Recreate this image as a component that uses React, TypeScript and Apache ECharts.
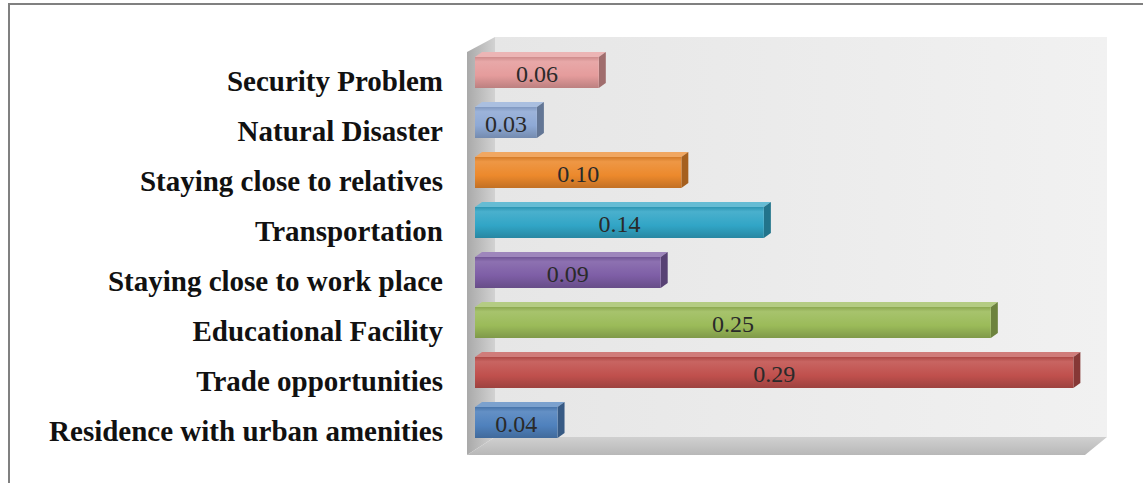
import React, { useEffect, useRef } from "react";
import * as echarts from "echarts";

const categories = [
  "Residence with urban amenities",
  "Trade opportunities",
  "Educational Facility",
  "Staying close to work place",
  "Transportation",
  "Staying close to relatives",
  "Natural Disaster",
  "Security Problem",
];
const values = [0.04, 0.29, 0.25, 0.09, 0.14, 0.1, 0.03, 0.06];
const barColors = ["#4F81BD", "#C0504D", "#9BBB59", "#7E5EA6", "#31A5C6", "#EC892C", "#8EA9D5", "#E59C9C"];
const axisMax = 0.3;

function shade(hex: string, f: number): string {
  const n = parseInt(hex.slice(1), 16);
  let r = (n >> 16) & 255, g = (n >> 8) & 255, b = n & 255;
  const t = f < 0 ? 0 : 255;
  const p = Math.abs(f);
  r = Math.round(r + (t - r) * p);
  g = Math.round(g + (t - g) * p);
  b = Math.round(b + (t - b) * p);
  return "rgb(" + r + "," + g + "," + b + ")";
}

const W = 1143, H = 483;
const GL = 475, GR = 1094, GT = 45, GB = 445;

export default function App() {
  const ref = useRef<HTMLDivElement>(null);
  useEffect(() => {
    if (!ref.current) return;
    const chart = echarts.init(ref.current, undefined, { renderer: "svg" });
    const option: any = {
      animation: false,
      backgroundColor: "#ffffff",
      grid: { left: GL, right: W - GR, top: GT, bottom: H - GB },
      xAxis: { type: "value", min: 0, max: axisMax, show: false },
      yAxis: {
        type: "category",
        data: categories,
        axisLine: { show: false },
        axisTick: { show: false },
        splitLine: { show: false },
        axisLabel: {
          margin: 32,
          color: "#111",
          fontFamily: "Liberation Serif",
          fontWeight: "bold",
          fontSize: 29,
          verticalAlign: "top",
          lineHeight: 22,
        },
      },
      graphic: [
        { type: "line", z: 0, shape: { x1: 8, y1: 4, x2: W, y2: 4 }, style: { stroke: "#808080", lineWidth: 2 } },
        { type: "line", z: 0, shape: { x1: 9, y1: 3, x2: 9, y2: H }, style: { stroke: "#808080", lineWidth: 2 } },
        {
          type: "rect", z: 0,
          shape: { x: 495, y: 37, width: 612, height: 400 },
          style: {
            fill: new echarts.graphic.LinearGradient(0, 0, 1, 0, [
              { offset: 0, color: "#E6E6E6" },
              { offset: 1, color: "#F1F1F1" },
            ]),
          },
        },
        {
          type: "polygon", z: 0,
          shape: { points: [[467, 52], [495, 37], [495, 437], [467, 455]] },
          style: {
            fill: new echarts.graphic.LinearGradient(0, 0, 1, 0, [
              { offset: 0, color: "#A9A9A9" },
              { offset: 1, color: "#D2D2D2" },
            ]),
          },
        },
        {
          type: "polygon", z: 0,
          shape: { points: [[495, 437], [1107, 437], [1085, 455], [467, 455]] },
          style: {
            fill: new echarts.graphic.LinearGradient(0, 0, 0, 1, [
              { offset: 0, color: "#D0D0D0" },
              { offset: 1, color: "#B8B8B8" },
            ]),
          },
        },
      ],
      series: [
        {
          type: "custom",
          z: 5,
          encode: { x: 0, y: 1 },
          data: values.map((v, i) => [v, i]),
          renderItem: (params: any, api: any) => {
            const v = api.value(0);
            const idx = api.value(1);
            const p0 = api.coord([0, idx]);
            const p1 = api.coord([v, idx]);
            const band = api.size([0, 1])[1];
            const h = band * 0.62;
            const top = p0[1] - 13;
            const bottom = top + h;
            const dx = 7, dy = -5;
            const c = barColors[params.dataIndex];
            return {
              type: "group",
              children: [
                {
                  type: "polygon",
                  shape: { points: [[p0[0], top], [p1[0], top], [p1[0] + dx, top + dy], [p0[0] + dx, top + dy]] },
                  style: { fill: shade(c, 0.25) },
                },
                {
                  type: "polygon",
                  shape: { points: [[p1[0], top], [p1[0] + dx, top + dy], [p1[0] + dx, bottom + dy], [p1[0], bottom]] },
                  style: { fill: shade(c, -0.3) },
                },
                {
                  type: "rect",
                  shape: { x: p0[0], y: top, width: p1[0] - p0[0], height: h },
                  style: {
                    fill: new echarts.graphic.LinearGradient(0, 0, 0, 1, [
                      { offset: 0, color: shade(c, -0.1) },
                      { offset: 0.15, color: shade(c, 0.12) },
                      { offset: 0.6, color: c },
                      { offset: 1, color: shade(c, -0.18) },
                    ]),
                  },
                },
                {
                  type: "text",
                  style: {
                    text: v.toFixed(2),
                    x: (p0[0] + p1[0]) / 2,
                    y: (top + bottom) / 2 + 1,
                    align: "center",
                    verticalAlign: "middle",
                    fontSize: 24,
                    fontFamily: "Liberation Serif",
                    fill: "#2a2a2a",
                  },
                },
              ],
            };
          },
        },
      ],
    };
    chart.setOption(option);
    return () => chart.dispose();
  }, []);
  return (
    <div
      ref={ref}
      style={{ position: "fixed", left: 0, top: 0, width: W, height: H }}
    />
  );
}
